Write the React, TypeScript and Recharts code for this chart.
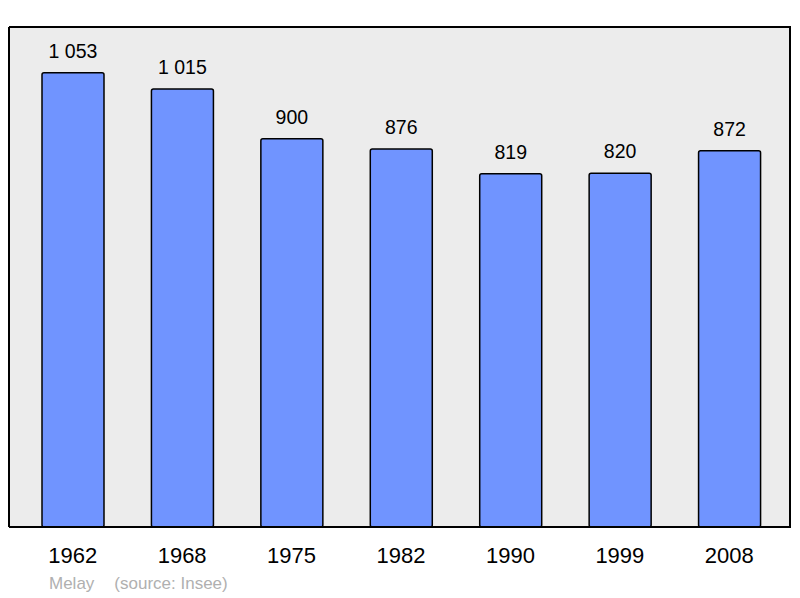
import React from "react";
import { BarChart, Bar, XAxis, YAxis, CartesianGrid, LabelList } from "recharts";

const years = ["1962", "1968", "1975", "1982", "1990", "1999", "2008"];
const population = [1053, 1015, 900, 876, 819, 820, 872];
const footerName = "Melay";
const footerSource = "(source: Insee)";

const data = years.map((y, i) => ({ year: y, pop: population[i] }));

const fmt = (v: any) => String(v).replace(/\B(?=(\d{3})+(?!\d))/g, " ");

export default function App() {
  return (
    <div style={{ position: "absolute", left: 0, top: 0, width: 800, height: 598, background: "#fff" }}>
      <BarChart
        width={800}
        height={598}
        data={data}
        margin={{ top: 27, right: 9, bottom: 0, left: 9 }}
      >
        <CartesianGrid
          fill="#ececec"
          stroke="#000"
          strokeWidth={2}
          horizontalPoints={[27, 527]}
          verticalPoints={[9, 790]}
        />
        <XAxis
          dataKey="year"
          height={71}
          padding={{ left: 9, right: 7 }}
          axisLine={{ stroke: "#000", strokeWidth: 2 }}
          tickLine={false}
          tickSize={0}
          tickMargin={20}
          tick={{ fill: "#000", fontSize: 22, fontFamily: "Liberation Sans, Arial, sans-serif" }}
          interval={0}
        />
        <YAxis domain={[0, 1159]} width={0} tick={false} tickLine={false} axisLine={false} />
        <Bar
          dataKey="pop"
          fill="#7094ff"
          stroke="#000"
          strokeWidth={1.5}
          barSize={62}
          radius={2}
          isAnimationActive={false}
        >
          <LabelList
            dataKey="pop"
            position="top"
            offset={15}
            formatter={fmt}
            style={{ fill: "#000", fontSize: 19.5, fontFamily: "Liberation Sans, Arial, sans-serif" }}
          />
        </Bar>
      </BarChart>
      <div
        style={{
          position: "absolute",
          left: 49,
          top: 574,
          fontFamily: "Liberation Sans, Arial, sans-serif",
          fontSize: 17,
          color: "#b0b0b0",
          whiteSpace: "pre",
        }}
      >
        <span>{footerName}</span>
        <span style={{ marginLeft: 20 }}>{footerSource}</span>
      </div>
    </div>
  );
}
